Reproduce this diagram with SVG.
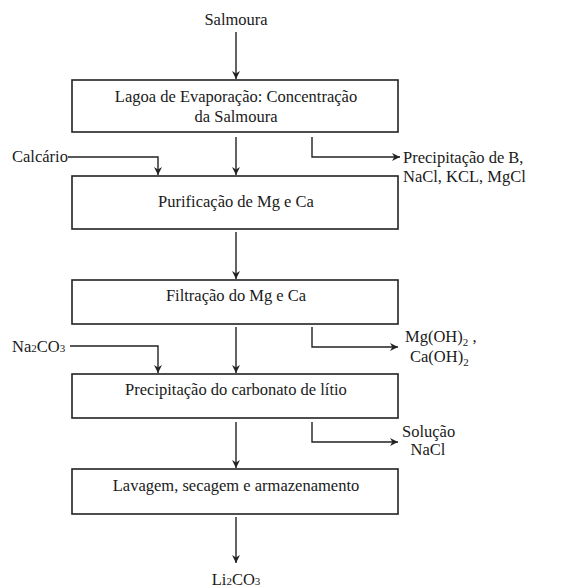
<svg xmlns="http://www.w3.org/2000/svg" width="580" height="588" viewBox="0 0 580 588" font-family="'Liberation Serif', 'DejaVu Serif', serif">
<style>
text{font-family:'Liberation Serif','DejaVu Serif',serif;font-size:16.5px;fill:#1a1a1a}
.c{text-anchor:middle}
.box{fill:#fff;stroke:#222;stroke-width:1.6}
.ln{fill:none;stroke:#222;stroke-width:1.4}
</style>
<defs>
<marker id="ah" viewBox="0 0 10 10" refX="10" refY="5" markerWidth="8" markerHeight="8" markerUnits="userSpaceOnUse" orient="auto">
<path d="M0,0 L10,5 L0,10 L3,5 Z" fill="#222"/>
</marker>
</defs>
<rect width="580" height="588" fill="#fff"/>
<g id="connectors">
<line class="ln" x1="236" y1="32" x2="236" y2="79" marker-end="url(#ah)"/>
<line class="ln" x1="236" y1="137" x2="236" y2="175" marker-end="url(#ah)"/>
<polyline class="ln" points="312,137 312,157 400,157" marker-end="url(#ah)"/>
<polyline class="ln" points="68,157 158,157 158,175" marker-end="url(#ah)"/>
<line class="ln" x1="236" y1="232" x2="236" y2="279" marker-end="url(#ah)"/>
<line class="ln" x1="236" y1="327" x2="236" y2="373" marker-end="url(#ah)"/>
<polyline class="ln" points="312,327 312,347 398,347" marker-end="url(#ah)"/>
<polyline class="ln" points="70,346 158,346 158,373" marker-end="url(#ah)"/>
<line class="ln" x1="236" y1="422" x2="236" y2="468" marker-end="url(#ah)"/>
<polyline class="ln" points="312,422 312,442 398,442" marker-end="url(#ah)"/>
<line class="ln" x1="236" y1="517" x2="236" y2="563" marker-end="url(#ah)"/>
</g>
<g id="salmoura"><text class="c" x="236" y="25">Salmoura</text></g>
<g id="lagoa">
<rect class="box" x="72" y="80" width="326" height="52"/>
<text class="c" x="236" y="102">Lagoa de Evaporação: Concentração</text>
<text class="c" x="236" y="122">da Salmoura</text>
</g>
<g id="calcario"><text x="12" y="162">Calcário</text></g>
<g id="precipB">
<text x="403" y="163">Precipitação de B,</text>
<text x="403" y="182">NaCl, KCL, MgCl</text>
</g>
<g id="purificacao">
<rect class="box" x="72" y="176" width="326" height="53"/>
<text class="c" x="236" y="207">Purificação de Mg e Ca</text>
</g>
<g id="filtracao">
<rect class="box" x="72" y="280" width="326" height="44"/>
<text class="c" x="236" y="301">Filtração do Mg e Ca</text>
</g>
<g id="na2co3"><text x="12" y="352">Na<tspan font-size="11">2</tspan>CO<tspan font-size="11">3</tspan></text></g>
<g id="hidroxidos">
<text x="405" y="342">Mg(OH)<tspan font-size="11" dy="4">2</tspan><tspan dy="-4"> ,</tspan></text>
<text x="410" y="362">Ca(OH)<tspan font-size="11" dy="4">2</tspan></text>
</g>
<g id="precipCarbonato">
<rect class="box" x="72" y="374" width="326" height="44"/>
<text class="c" x="236" y="395">Precipitação do carbonato de lítio</text>
</g>
<g id="solucao">
<text x="402" y="437">Solução</text>
<text class="c" x="428" y="455">NaCl</text>
</g>
<g id="lavagem">
<rect class="box" x="72" y="469" width="326" height="45"/>
<text class="c" x="236" y="491">Lavagem, secagem e armazenamento</text>
</g>
<g id="li2co3"><text class="c" x="236" y="585">Li<tspan font-size="11">2</tspan>CO<tspan font-size="11">3</tspan></text></g>
</svg>
